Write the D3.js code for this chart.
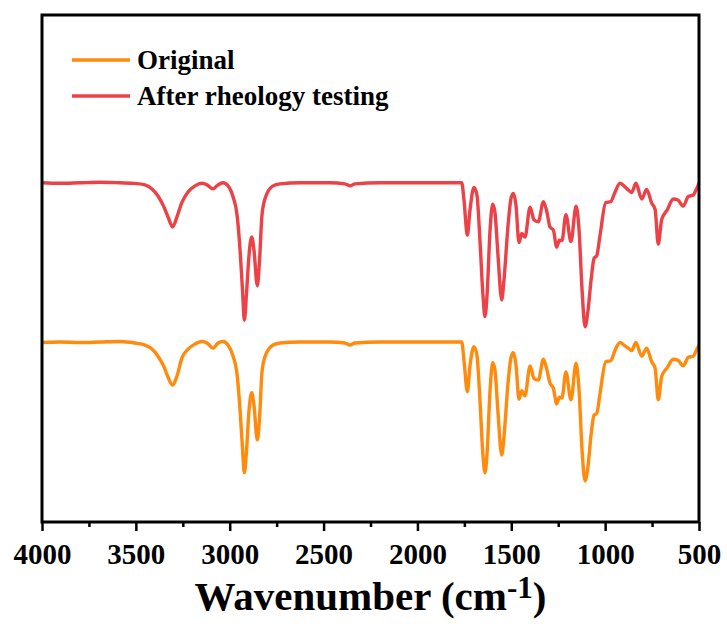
<!DOCTYPE html>
<html>
<head>
<meta charset="utf-8">
<script src="https://cdn.jsdelivr.net/npm/d3@7/dist/d3.min.js"></script>
<style>
  html, body { margin: 0; padding: 0; background: #fff; }
  svg { display: block; }
  text { font-family: "Liberation Serif", "Times New Roman", serif; font-weight: bold; fill: #000; }
</style>
</head>
<body>
<svg id="chart" width="727" height="630"></svg>
<script>
// FTIR spectra: wavenumber (cm-1) and transmittance (a.u., stacked with offset)
const wavenumbers = [
  4000, 3904, 3798, 3691, 3584, 3505, 3451, 3414, 3382, 3350, 3329, 3304, 3281, 3254, 3222, 3185,
  3148, 3121, 3089, 3062, 3036, 3009, 2982, 2961, 2945, 2932, 2922, 2911, 2897, 2883, 2871, 2853,
  2841, 2828, 2807, 2769, 2732, 2626, 2466, 2386, 2359, 2333, 2199, 2040, 1880, 1764, 1752, 1734,
  1720, 1699, 1683, 1667, 1651, 1640, 1629, 1613, 1599, 1587, 1571, 1551, 1539, 1517, 1501, 1489,
  1475, 1459, 1444, 1427, 1400, 1379, 1356, 1329, 1310, 1294, 1276, 1258, 1244, 1230, 1209, 1182,
  1155, 1139, 1123, 1107, 1091, 1075, 1059, 1045, 1027, 997, 970, 947, 921, 900, 877, 859,
  836, 805, 779, 752, 734, 717, 699, 670, 637, 612, 584, 557, 530, 516, 500
];

const afterRheology = [
  66.9, 66.8, 66.9, 67.0, 66.9, 66.8, 66.5, 65.7, 64.3, 62.1, 60.2, 58.2, 60.2, 63.1, 65.1, 66.3,
  66.8, 66.5, 65.7, 66.5, 66.9, 66.3, 64.1, 60.6, 53.7, 45.8, 39.8, 44.8, 52.7, 56.2, 53.7, 46.6,
  51.7, 60.6, 64.3, 66.3, 66.7, 66.9, 66.9, 66.7, 66.3, 66.7, 66.9, 66.9, 66.9, 66.9, 63.5, 56.6,
  61.5, 66.0, 64.5, 55.6, 44.8, 40.5, 44.8, 57.6, 62.7, 61.1, 52.7, 43.8, 47.7, 58.6, 63.9, 64.8,
  62.5, 55.1, 56.9, 56.2, 62.1, 59.6, 59.2, 63.2, 61.1, 58.2, 57.6, 54.2, 55.6, 55.5, 60.6, 55.3,
  62.3, 57.6, 45.8, 38.5, 41.8, 47.7, 52.0, 52.5, 56.6, 63.0, 63.2, 65.1, 66.8, 66.3, 65.5, 65.0,
  66.8, 63.7, 65.6, 62.9, 61.7, 54.8, 59.6, 61.5, 63.7, 63.5, 62.3, 64.2, 64.5, 65.5, 66.8
];

const original = [
  35.4, 35.5, 35.4, 35.5, 35.6, 35.3, 34.9, 34.1, 32.7, 30.6, 28.6, 27.0, 28.8, 32.4, 34.1, 35.1,
  35.6, 35.3, 34.3, 35.3, 35.6, 34.9, 32.7, 29.2, 22.1, 14.6, 9.7, 13.8, 22.1, 25.5, 23.1, 16.2,
  20.5, 29.6, 33.1, 34.9, 35.3, 35.5, 35.5, 35.3, 34.9, 35.3, 35.5, 35.5, 35.5, 35.5, 31.9, 25.7,
  30.8, 34.6, 32.9, 24.1, 13.2, 9.7, 13.6, 26.0, 31.4, 30.0, 21.7, 13.2, 16.8, 27.6, 32.5, 33.4,
  31.0, 24.2, 25.9, 24.9, 30.8, 28.3, 28.0, 32.1, 30.0, 27.4, 26.4, 23.3, 24.6, 24.5, 29.6, 24.1,
  31.3, 26.0, 14.2, 8.1, 11.1, 17.2, 21.1, 21.4, 25.4, 31.6, 31.8, 33.9, 35.4, 34.9, 34.3, 33.8,
  35.4, 32.7, 34.3, 31.6, 30.4, 24.1, 28.7, 30.4, 32.1, 31.9, 30.8, 32.5, 32.7, 33.7, 34.8
];

const majorTicks = [4000, 3500, 3000, 2500, 2000, 1500, 1000, 500];
const minorTicks = [3750, 3250, 2750, 2250, 1750, 1250, 750];
const seriesNames = ["Original", "After rheology testing"];
const seriesColors = ["#FF8A0C", "#EC4147"];

const svg = d3.select("#chart");
const plotLeft = 42, plotRight = 699, plotTop = 15, plotBottom = 522;

const x = d3.scaleLinear().domain([4000, 500]).range([plotLeft, plotRight]);
const y = d3.scaleLinear().domain([0, 100]).range([plotBottom, plotTop]);

const line = d3.line()
  .x((d, i) => x(wavenumbers[i]))
  .y(d => y(d))
  .curve(d3.curveMonotoneX);

svg.append("defs").append("clipPath").attr("id", "plot-clip")
  .append("rect").attr("x", plotLeft).attr("y", plotTop)
  .attr("width", plotRight - plotLeft).attr("height", plotBottom - plotTop);

const series = [original, afterRheology];
svg.append("g").attr("clip-path", "url(#plot-clip)")
  .selectAll("path").data(series).join("path")
  .attr("d", d => line(d))
  .attr("fill", "none")
  .attr("stroke", (d, i) => seriesColors[i])
  .attr("stroke-width", 3.4)
  .attr("stroke-linejoin", "round")
  .attr("stroke-linecap", "round");

// minor ticks (unlabelled)
const minorAxis = svg.append("g").attr("transform", `translate(0,${plotBottom})`)
  .call(d3.axisBottom(x).tickValues(minorTicks).tickSize(5).tickFormat(""));
minorAxis.select(".domain").remove();
minorAxis.selectAll("line").attr("stroke", "#000").attr("stroke-width", 2.5);

// major ticks with labels
const majorAxis = svg.append("g").attr("transform", `translate(0,${plotBottom})`)
  .call(d3.axisBottom(x).tickValues(majorTicks).tickSize(9).tickFormat(d3.format("d")));
majorAxis.select(".domain").remove();
majorAxis.selectAll("line").attr("stroke", "#000").attr("stroke-width", 2.5);
majorAxis.selectAll("text")
  .attr("y", 42).attr("dy", 0)
  .style("font-size", "29px")
  .style("font-family", "'Liberation Serif', 'Times New Roman', serif")
  .style("font-weight", "bold")
  .attr("fill", "#000");

// frame
svg.append("rect")
  .attr("x", plotLeft).attr("y", plotTop)
  .attr("width", plotRight - plotLeft).attr("height", plotBottom - plotTop)
  .attr("fill", "none").attr("stroke", "#000").attr("stroke-width", 3);

// axis title
const title = svg.append("text")
  .attr("x", (plotLeft + plotRight) / 2).attr("y", 610)
  .attr("text-anchor", "middle")
  .style("font-size", "41px");
title.append("tspan").text("Wavenumber (cm");
title.append("tspan").attr("dy", -12).style("font-size", "31px").text("-1");
title.append("tspan").attr("dy", 12).text(")");

// legend
const legend = svg.append("g");
seriesNames.forEach((name, i) => {
  const ly = 60 + i * 36;
  legend.append("line")
    .attr("x1", 72).attr("x2", 130).attr("y1", ly).attr("y2", ly)
    .attr("stroke", seriesColors[i]).attr("stroke-width", 3.4);
  legend.append("text")
    .attr("x", 137).attr("y", ly + 9)
    .style("font-size", "27px")
    .text(name);
});
</script>
</body>
</html>
